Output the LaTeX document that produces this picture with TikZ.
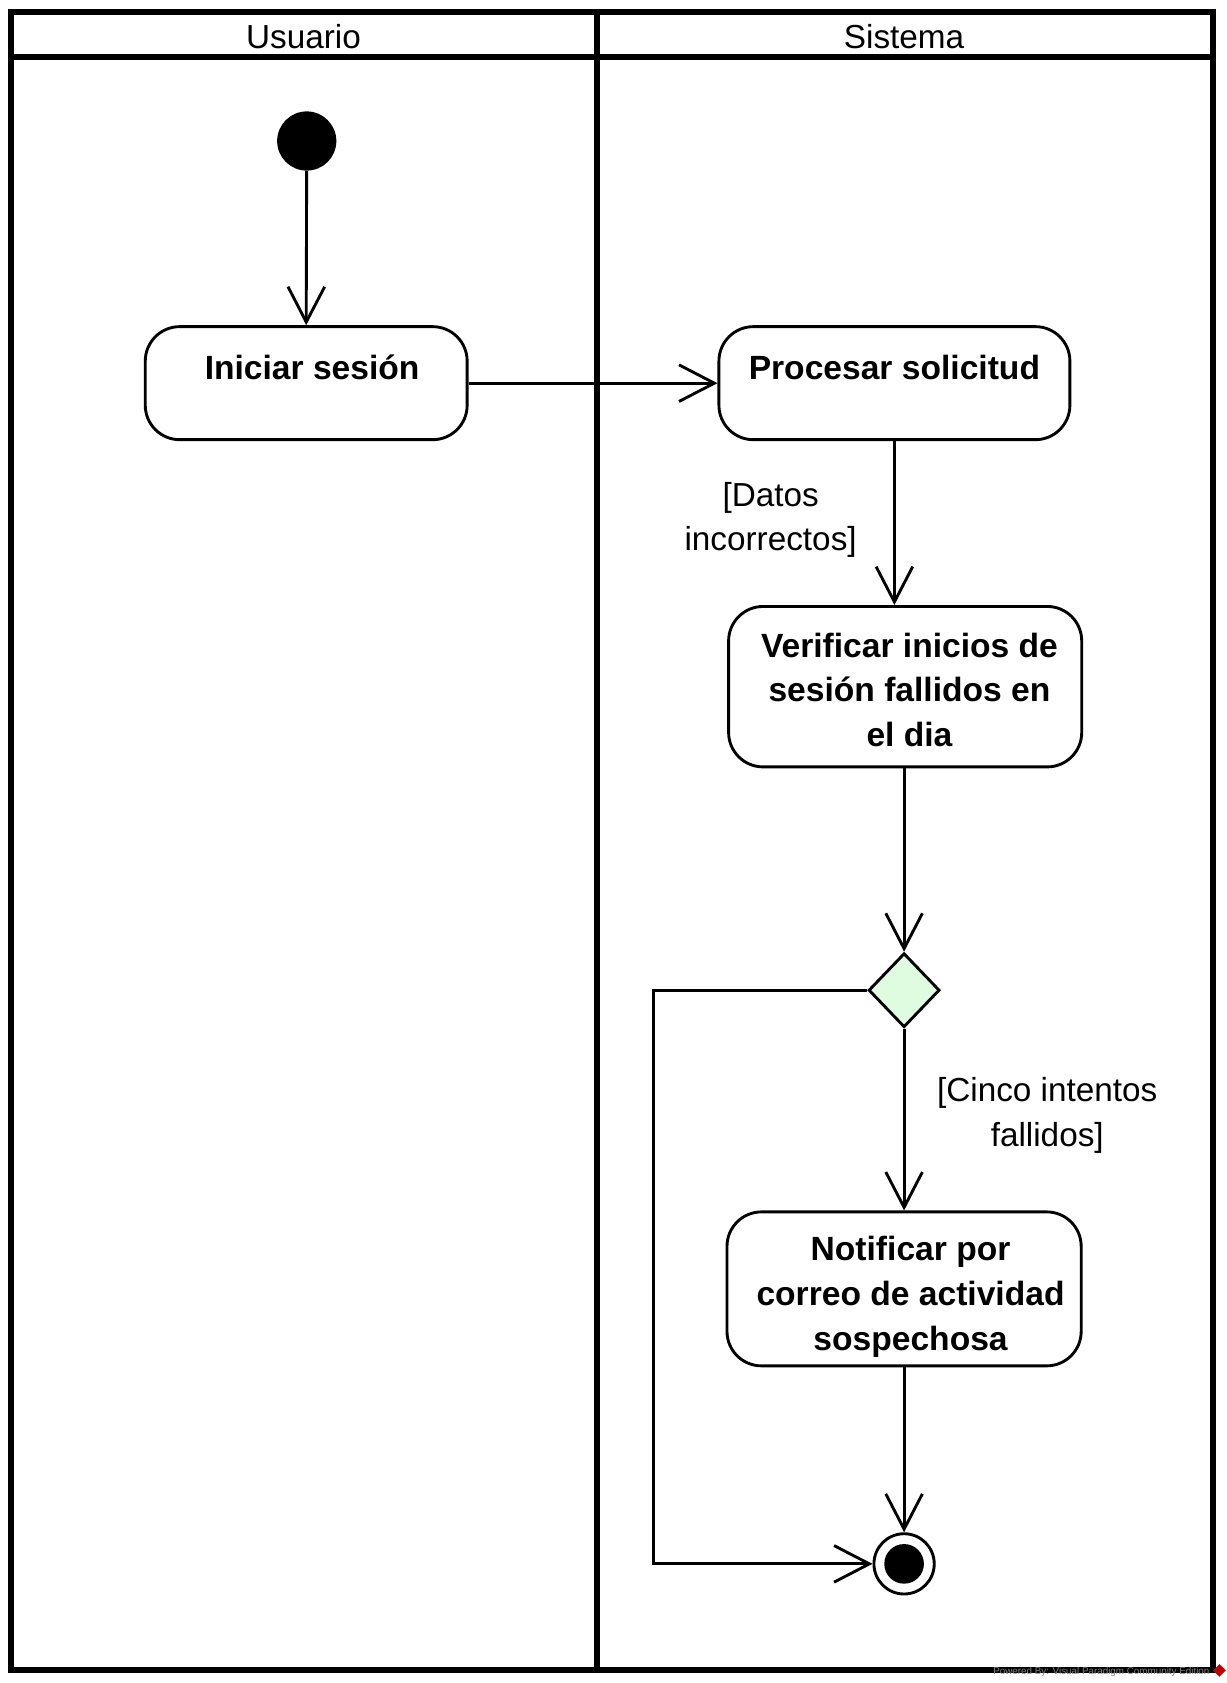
\documentclass[tikz,border=0pt]{standalone}
\usepackage{fontspec}
\setmainfont{Liberation Sans}
\usetikzlibrary{arrows.meta}
\usetikzlibrary{shapes.geometric}

\begin{document}
\begin{tikzpicture}[x=0.025cm,y=-0.025cm,
  lane/.style={line width=4pt},
  flow/.style={line width=1.9pt,-{Straight Barb[length=8.2mm,width=8.5mm]}},
  actbox/.style={draw,line width=1.9pt,rounded corners=8mm,inner sep=0pt},
  acttext/.style={font=\fontsize{22.2}{29.6}\selectfont\bfseries,align=center},
  plaintext/.style={font=\fontsize{22}{29.6}\selectfont,align=center}]
  \useasboundingbox (0,0) rectangle (1140,1563.7);

  % swimlanes
  \draw [lane] (10,11) rectangle (1127,1552);
  \draw [lane] (10,53) -- (1127,53);
  \draw [lane] (555,11) -- (555,1552);
  \node [plaintext] (usuario) at (282,34) {Usuario};
  \node [plaintext] (sistema) at (840,34) {Sistema};

  \node [circle,fill,minimum size=1.375cm,inner sep=0pt] (inicio) at (285,131) {};

  \node [actbox,minimum width=7.475cm,minimum height=2.625cm] (iniciar) at (284.5,356) {};
  \node [acttext] (iniciar text) at (290,341) {Iniciar sesión};
  \node [actbox,minimum width=8.15cm,minimum height=2.625cm] (procesar) at (831,356) {};
  \node [acttext] (procesar text) at (831,341) {Procesar solicitud};
  \node [actbox,minimum width=8.2cm,minimum height=3.725cm] (verificar) at (841,638) {};
  \node [acttext] (verificar text) at (845,641) {Verificar inicios de\\sesión fallidos en\\el dia};
  \node [diamond,draw,line width=1.9pt,fill={rgb,255:red,224;green,252;blue,224},
    minimum width=1.65cm,minimum height=1.72cm,inner sep=0pt] (decision) at (840,920) {};
  \node [actbox,minimum width=8.225cm,minimum height=3.575cm] (notificar) at (840,1197.5) {};
  \node [acttext] (notificar text) at (846,1205) {Notificar por\\correo de actividad\\sospechosa};
  \node [circle,draw,line width=1.9pt,minimum size=1.4cm,inner sep=0pt] (final) at (840,1453) {};
  \fill (final.center) circle [radius=0.46cm];

  \coordinate (loopA) at (607,920);
  \coordinate (loopB) at (607,1453);

  \draw [flow] (inicio) -- (iniciar.north);
  \draw [flow] (iniciar.east) -- (procesar.west);
  \draw [flow] (procesar.south) -- (procesar.south |- verificar.north);
  \draw [flow] (decision.north |- verificar.south) -- (decision.north);
  \draw [flow] (decision.south) -- (notificar.north -| decision.south);
  \draw [flow] (final.north |- notificar.south) -- (final.north);
  \draw [flow] (decision.west) -- (loopA) -- (loopB) -- (final.west);

  \node [plaintext] (datos) at (716,483) {[Datos\\incorrectos]};
  \node [plaintext] (cinco) at (973,1036) {[Cinco intentos\\fallidos]};

  \node [anchor=east,text=gray,inner sep=0pt,font=\fontsize{6.5}{7}\selectfont] (marca) at (1124,1553) {Powered By: Visual Paradigm Community Edition};
  \node [diamond,fill=red!75!black,minimum size=0.3cm,inner sep=0pt] (logo) at (1133,1552) {};
\end{tikzpicture}
\end{document}
